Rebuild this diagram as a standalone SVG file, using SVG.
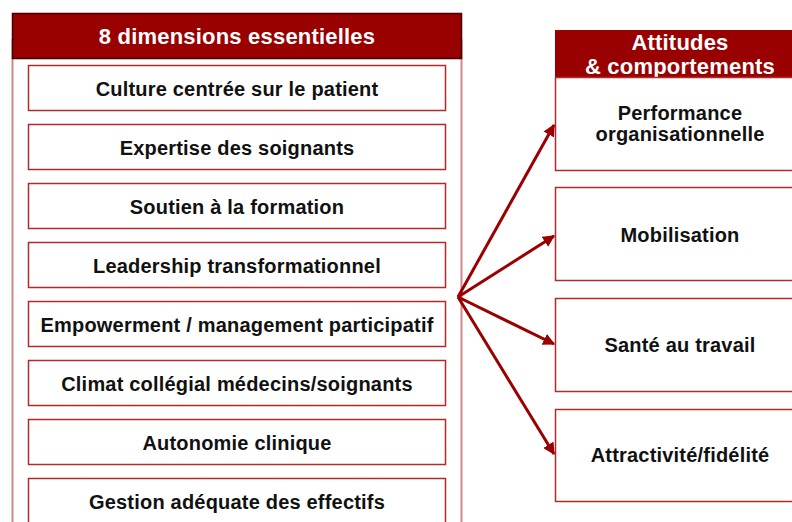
<svg xmlns="http://www.w3.org/2000/svg" width="792" height="522" viewBox="0 0 792 522">
  <defs>
    <marker id="arrow" viewBox="0 0 10 10" refX="9" refY="5" markerWidth="4" markerHeight="4" markerUnits="strokeWidth" orient="auto">
      <path d="M0,0 L10,5 L0,10 z" fill="#9b0000"/>
    </marker>
  </defs>
  <style>
    .head { fill: #990000; stroke: #4a0000; stroke-width: 1.5; }
    .headR { fill: #990000; }
    .frame { fill: #ffffff; stroke: #d08888; stroke-width: 2; }
    .box { fill: #ffffff; stroke: #b22a2a; stroke-width: 1.5; }
    .boxR { fill: #ffffff; stroke: #b22a2a; stroke-width: 1.5; }
    .t { font-family: "Liberation Sans", Arial, sans-serif; font-weight: bold; font-size: 20px; letter-spacing: 0.2px; fill: #111111; text-anchor: middle; }
    .th { font-family: "Liberation Sans", Arial, sans-serif; font-weight: bold; font-size: 22px; letter-spacing: 0.2px; fill: #ffffff; text-anchor: middle; }
    .link { stroke: #9b0000; stroke-width: 3; fill: none; }
  </style>

  <!-- left panel: eight essential dimensions -->
  <g id="dimensions">
    <rect class="frame" x="12.5" y="40" width="449" height="500"/>
    <rect class="head" x="12.5" y="13.5" width="449" height="45"/>
    <text class="th" x="237" y="44">8 dimensions essentielles</text>
  </g>
  <g id="d1"><rect class="box" x="28.5" y="65.5" width="417" height="45"/><text class="t" x="237" y="95.5">Culture centrée sur le patient</text></g>
  <g id="d2"><rect class="box" x="28.5" y="124.5" width="417" height="45"/><text class="t" x="237" y="154.5">Expertise des soignants</text></g>
  <g id="d3"><rect class="box" x="28.5" y="183.5" width="417" height="45"/><text class="t" x="237" y="213.5">Soutien à la formation</text></g>
  <g id="d4"><rect class="box" x="28.5" y="242.5" width="417" height="45"/><text class="t" x="237" y="272.5">Leadership transformationnel</text></g>
  <g id="d5"><rect class="box" x="28.5" y="301.5" width="417" height="45"/><text class="t" x="237" y="331.5">Empowerment / management participatif</text></g>
  <g id="d6"><rect class="box" x="28.5" y="360.5" width="417" height="45"/><text class="t" x="237" y="390.5">Climat collégial médecins/soignants</text></g>
  <g id="d7"><rect class="box" x="28.5" y="419.5" width="417" height="45"/><text class="t" x="237" y="449.5">Autonomie clinique</text></g>
  <g id="d8"><rect class="box" x="28.5" y="478.5" width="417" height="50"/><text class="t" x="237" y="508.5">Gestion adéquate des effectifs</text></g>

  <!-- right panel: attitudes and behaviours -->
  <g id="attitudes">
    <rect class="headR" x="555" y="30" width="250" height="47"/>
    <text class="th" x="680" y="50">Attitudes</text>
    <text class="th" x="680" y="73.5">&amp; comportements</text>
  </g>
  <g id="r1"><rect class="boxR" x="555.5" y="77.5" width="250" height="93"/><text class="t" x="680" y="120">Performance</text><text class="t" x="680" y="141">organisationnelle</text></g>
  <g id="r2"><rect class="boxR" x="555.5" y="187.5" width="250" height="93"/><text class="t" x="680" y="242">Mobilisation</text></g>
  <g id="r3"><rect class="boxR" x="555.5" y="298.5" width="250" height="93"/><text class="t" x="680" y="352">Santé au travail</text></g>
  <g id="r4"><rect class="boxR" x="555.5" y="409.5" width="250" height="92"/><text class="t" x="680" y="462">Attractivité/fidélité</text></g>

  <!-- connectors fanning out from the left panel -->
  <g id="connectors">
    <line class="link" x1="458" y1="297" x2="554" y2="125" marker-end="url(#arrow)"/>
    <line class="link" x1="458" y1="297" x2="554" y2="236" marker-end="url(#arrow)"/>
    <line class="link" x1="458" y1="297" x2="554" y2="344" marker-end="url(#arrow)"/>
    <line class="link" x1="458" y1="297" x2="554" y2="454" marker-end="url(#arrow)"/>
  </g>
</svg>
